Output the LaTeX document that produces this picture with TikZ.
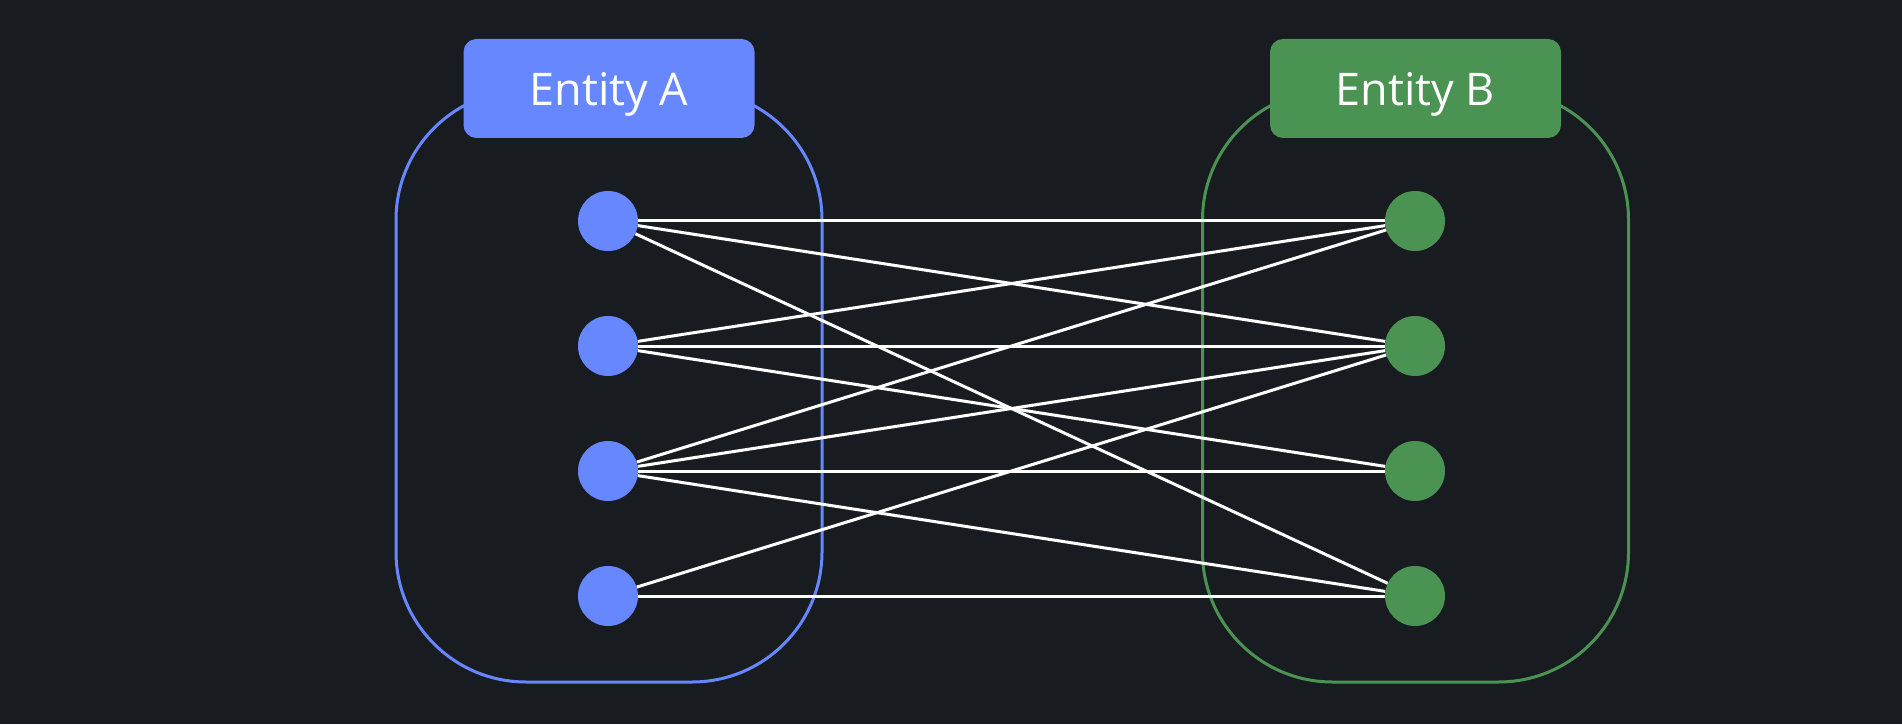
\documentclass[tikz,border=0pt]{standalone}
\usepackage{fontspec}
\setmainfont{Open Sans}
\usepackage{tikz}
\usepackage{xcolor}
\usetikzlibrary{positioning}
\definecolor{bg-dark}{HTML}{181B20}
\definecolor{entity-blue}{HTML}{6687FF}
\definecolor{entity-green}{HTML}{4A9352}
\tikzset{
    entity-box/.style = {draw=#1, line width=3pt, rectangle, rounded corners=130pt, minimum width=426pt, minimum height=592pt},
    entity-title/.style = {fill=#1, text=white, rectangle, rounded corners=13pt, minimum width=291pt, minimum height=99pt, text depth=0pt, font=\fontsize{45}{54}\selectfont},
    entity-dot/.style = {fill=#1, circle, minimum size=60pt, inner sep=0pt},
    link/.style = {draw=white, line width=3pt},
}

\begin{document}
\begin{tikzpicture}[x=1pt, y=1pt]
\fill[bg-dark] (0,0) rectangle (1902,724);
\node [entity-box=entity-blue] (boxA) at (609,338) {};
\node [entity-box=entity-green] (boxB) at (1415.5,338) {};
\node [entity-title=entity-blue] (titleA) at (boxA.north) {Entity A};
\node [entity-title=entity-green] (titleB) at (boxB.north) {Entity B};
\foreach \i/\y in {1/503, 2/378, 3/253, 4/128} {
    \node [entity-dot=entity-blue] (a\i) at (608,\y) {};
    \node [entity-dot=entity-green] (b\i) at (1415,\y) {};
}
\foreach \s/\t in {1/1, 1/2, 1/4, 2/1, 2/2, 2/3, 3/1, 3/2, 3/3, 3/4, 4/2, 4/4}
    \draw [link] (a\s) -- (b\t);
\end{tikzpicture}
\end{document}
